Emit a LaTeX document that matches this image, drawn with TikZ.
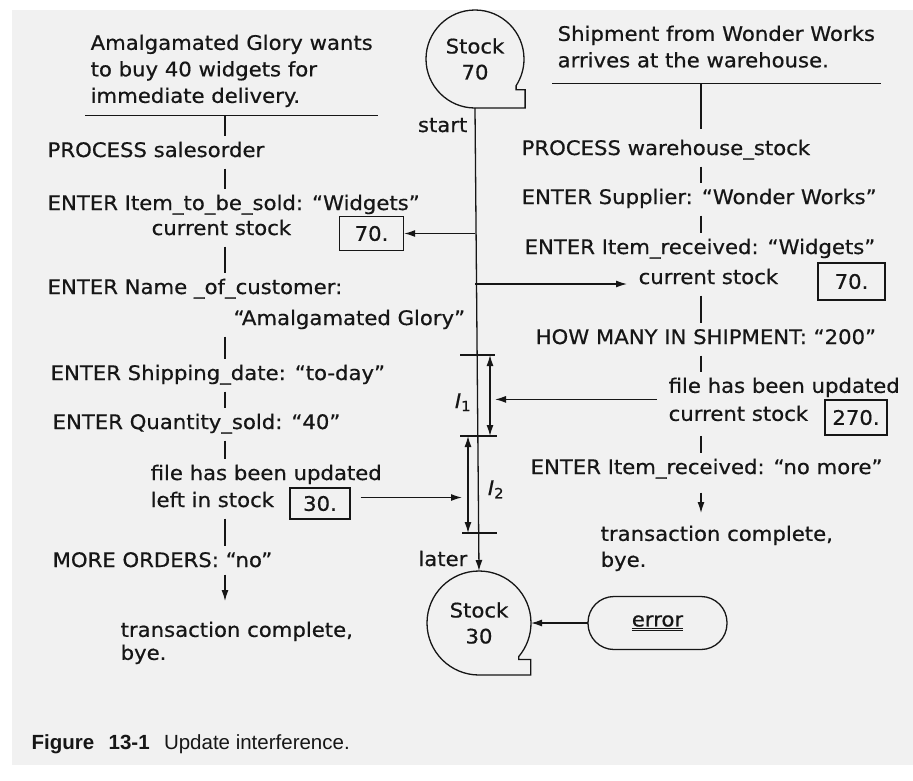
\documentclass[tikz,border=0pt]{standalone}
\usepackage{fontspec}
\setmainfont{DejaVu Sans}[FakeStretch=1.06, FakeBold=0.6]
\newfontfamily\capfont{Liberation Sans}
\usetikzlibrary{arrows.meta,positioning}
\definecolor{PaperGray}{RGB}{241,241,241}
\definecolor{InkBlack}{RGB}{22,22,22}

\begin{document}
\begin{tikzpicture}[
  x=1pt, y=-1pt,
  color=InkBlack, line width=1.3pt,
  txt/.style={anchor=base west, inner sep=0pt, text height=15pt, text depth=5pt, font=\fontsize{20}{26.5}\selectfont},
  blk/.style={anchor=north west, align=left, inner sep=0pt, font=\fontsize{20}{26.5}\selectfont},
  headblk/.style={blk, inner xsep=5pt, inner ysep=8pt},
  valbox/.style={draw, minimum width=64pt, minimum height=34pt, inner sep=0pt, font=\fontsize{20}{24}\selectfont},
  stockdisk/.style={circle, minimum size=98pt, inner sep=0pt, outer sep=0pt, align=center, font=\fontsize{20}{26}\selectfont},
  errbox/.style={draw, rounded corners=26pt, minimum width=139pt, minimum height=53pt, inner sep=0pt, outer sep=0pt, font=\fontsize{20}{24}\selectfont},
  flowline/.style={shorten <=6pt, shorten >=5pt},
  arrow/.style={-{Latex[length=11pt,width=7pt]}},
  twoway/.style={{Latex[length=11pt,width=7pt]}-{Latex[length=11pt,width=7pt]}}
]
\useasboundingbox (0,0) rectangle (913,780);
\fill[PaperGray] (12,10) rectangle (913,765);

% stock file, before and after
\node[stockdisk] (stocktop) at (475,59) {Stock\\70};
\draw (stocktop.south) arc[start angle=90, end angle=393, radius=49] -- ++(0,4) -- ++(9,0) |- (stocktop.south);
\node[stockdisk, minimum size=104pt] (stockbot) at (479,623) {Stock\\30};
\draw (stockbot.south) arc[start angle=90, end angle=400, radius=52] -- ++(0,3) -- ++(12,0) |- (stockbot.south);
\node[txt, anchor=base east] (startlbl) at (468,132) {start};
\node[txt, anchor=base east] (laterlbl) at (468,566) {later};
\node[errbox] (errnode) at (657.5,623) {\underline{\underline{error}}};

% sales order transaction
\node[headblk] (wants) at (85,26) {Amalgamated Glory wants\\to buy 40 widgets for\\immediate delivery.};
\node[txt] (procsales) at (47,157) {PROCESS salesorder};
\node[txt] (itemsold) at (47,210) {ENTER Item\_to\_be\_sold: “Widgets”};
\node[txt] (curl) at (151,235) {current stock};
\node[valbox] (box70l) at (371.5,233.5) {70.};
\node[txt] (custname) at (47,294) {ENTER Name \_of\_customer:};
\node[txt] (custval) at (233,325) {“Amalgamated Glory”};
\node[txt] (shipdate) at (50,380) {ENTER Shipping\_date: “to-day”};
\node[txt] (qtysold) at (52,429) {ENTER Quantity\_sold: “40”};
\node[txt] (updl) at (150,480) {file has been updated};
\node[txt] (leftl) at (150,507) {left in stock};
\node[valbox, minimum width=60pt, minimum height=31pt] (box30) at (320,503.5) {30.};
\node[txt] (moreord) at (52,567) {MORE ORDERS: “no”};
\node[blk, font=\fontsize{20}{23}\selectfont] (donel) at (120,621) {transaction complete,\\bye.};

% warehouse transaction
\node[headblk, inner ysep=11pt] (shipment) at (552,14) {Shipment from Wonder Works\\arrives at the warehouse.\vphantom{y}};
\node[txt] (procware) at (521,155) {PROCESS warehouse\_stock};
\node[txt] (supplier) at (521,204) {ENTER Supplier: “Wonder Works”};
\node[txt] (itemrec) at (524,254) {ENTER Item\_received: “Widgets”};
\node[txt] (curr) at (638,284) {current stock};
\node[valbox, minimum width=67pt, minimum height=37pt] (box70r) at (851.5,281.5) {70.};
\node[txt] (howmany) at (535,344) {HOW MANY IN SHIPMENT: “200”};
\node[blk, font=\fontsize{20}{28}\selectfont] (updr) at (668,377) {file has been updated\\current stock};
\node[valbox, minimum width=62pt, minimum height=35pt] (box270) at (856,417.5) {270.};
\node[txt] (norec) at (530,474) {ENTER Item\_received: “no more”};
\node[blk, font=\fontsize{20}{26}\selectfont] (doner) at (600,525) {transaction complete,\\bye.};

% interference intervals
\coordinate (i1a) at (490,355);
\coordinate (i1b) at (490,436);
\coordinate (i2a) at (468,436);
\coordinate (i2b) at (468,533);
\node[txt, anchor=base] (i1lbl) at (463,408) {\textit{I}\textsubscript{1}};
\node[txt, anchor=base] (i2lbl) at (496,495) {\textit{I}\textsubscript{2}};

\coordinate (lflow) at (225,0);
\coordinate (rflow) at (701,0);

\draw (wants.south west) -- (wants.south east);
\draw[flowline, shorten <=0pt] (lflow |- wants.south) -- (lflow |- procsales.north);
\draw[flowline] (lflow |- procsales.south) -- (lflow |- itemsold.north);
\draw[flowline] (lflow |- curl.south) -- (lflow |- custname.north);
\draw[flowline] (lflow |- custval.south) -- (lflow |- shipdate.north);
\draw[flowline] (lflow |- shipdate.south) -- (lflow |- qtysold.north);
\draw[flowline] (lflow |- qtysold.south) -- (lflow |- updl.north);
\draw[flowline] (lflow |- leftl.south) -- (lflow |- moreord.north);
\draw[arrow, shorten <=2pt, shorten >=20pt] (lflow |- moreord.south) -- (lflow |- donel.north);

\draw (shipment.south west) -- (shipment.south east);
\draw[flowline, shorten <=0pt, shorten >=10pt] (rflow |- shipment.south) -- (rflow |- procware.north);
\draw[flowline] (rflow |- procware.south) -- (rflow |- supplier.north);
\draw[flowline] (rflow |- supplier.south) -- (rflow |- itemrec.north);
\draw[flowline] (rflow |- curr.south) -- (rflow |- howmany.north);
\draw[flowline] (rflow |- howmany.south) -- (rflow |- updr.north);
\draw[flowline, shorten <=14pt] (rflow |- updr.south) -- (rflow |- norec.north);
\draw[arrow, shorten <=13pt, shorten >=12pt] (rflow |- norec.south) -- (rflow |- doner.north);

\draw[arrow] (stocktop.south) -- (stockbot.north);
\draw[arrow] (stocktop.south |- box70l.east) -- (box70l.east);
\draw[arrow, shorten >=11pt] (stocktop.south |- curr.base west) -- (curr.base west);
\draw ([xshift=-30pt]i1a) -- ([xshift=5pt]i1a);
\draw ([xshift=-30pt]i1b) -- ([xshift=7pt]i1b);
\draw ([xshift=-6pt]i2b) -- ([xshift=29pt]i2b);
\draw[twoway] (i1a) -- (i1b);
\draw[twoway] (i2a) -- (i2b);
\draw[arrow, shorten <=11pt, shorten >=5pt] (updr.west) -- (i1a |- updr.west);
\draw[arrow, shorten <=10pt, shorten >=6pt] ([yshift=6pt]box30.east) -- ([yshift=6pt]i2a |- box30.east);
\draw[arrow] (errnode.west) -- (stockbot.east);

\node[anchor=base west, inner sep=0pt, font=\capfont\fontsize{20.5}{24}\selectfont] (caption) at (31,749) {\textbf{Figure\hspace{0.7em}13-1}\hspace{0.7em}Update interference.};
\end{tikzpicture}
\end{document}
